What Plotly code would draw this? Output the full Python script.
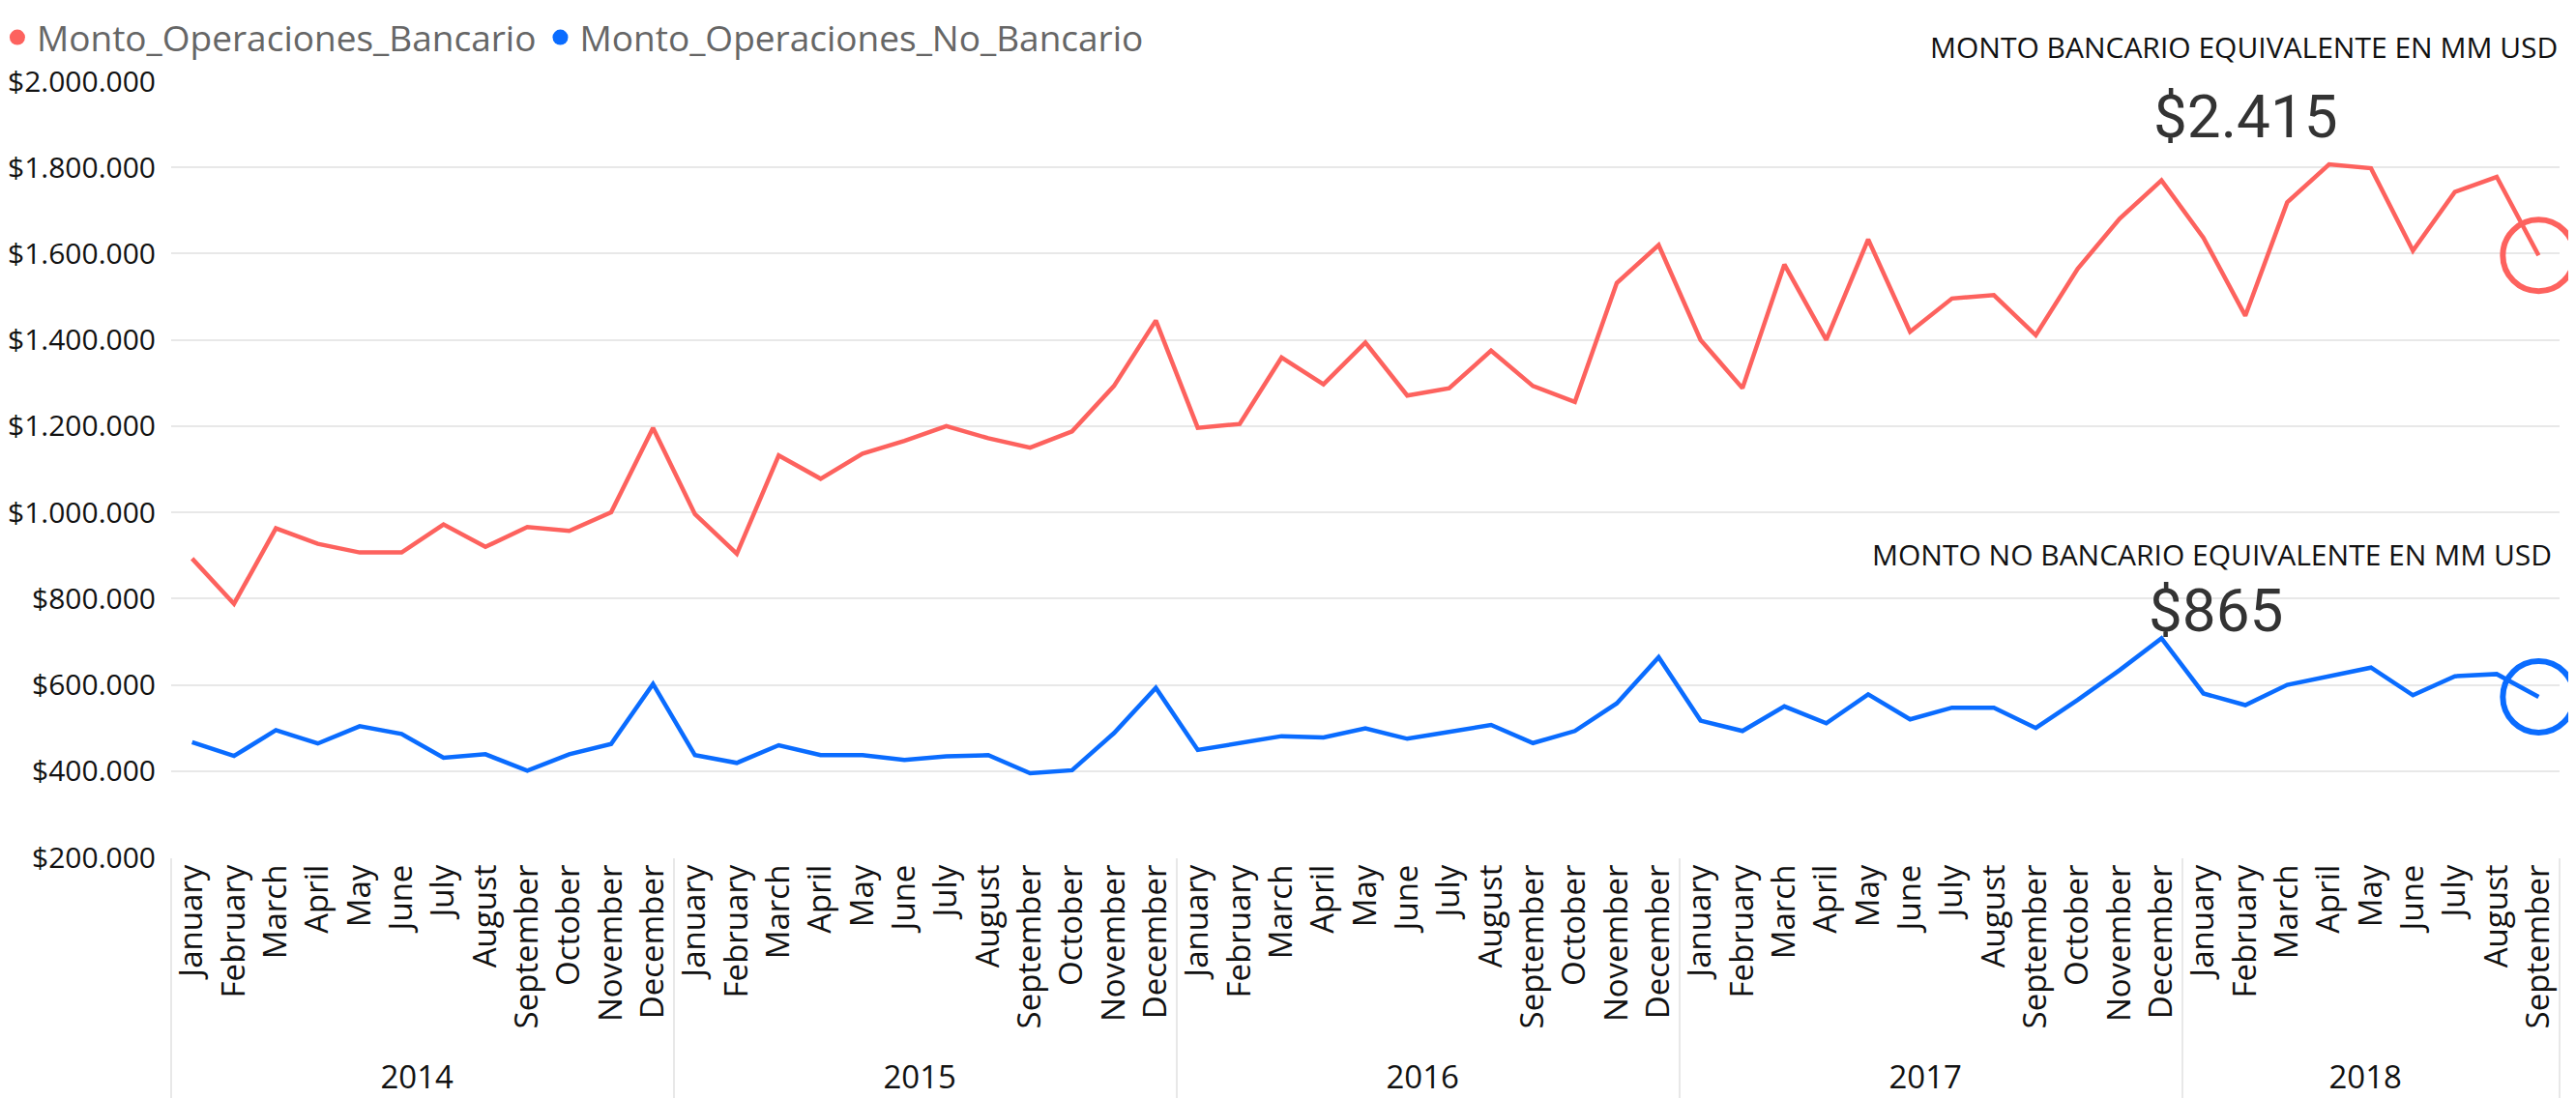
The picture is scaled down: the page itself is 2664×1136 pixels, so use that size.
import plotly.graph_objects as go

RED = "#FD625E"
BLUE = "#0A6CFF"
GRID = "#E8E8E8"

# month-by-month amounts, Jan 2014 .. Sep 2018
years = ["2014"] * 12 + ["2015"] * 12 + ["2016"] * 12 + ["2017"] * 12 + ["2018"] * 9
month_names = ["January", "February", "March", "April", "May", "June", "July",
               "August", "September", "October", "November", "December"]
months = month_names * 4 + month_names[:9]

bancario = [
    893000, 788000, 963000, 927000, 907000, 907000, 972000, 920000, 966000, 957000, 1000000, 1196000,
    996000, 904000, 1132000, 1078000, 1136000, 1166000, 1200000, 1172000, 1150000, 1188000, 1293000, 1445000,
    1196000, 1205000, 1359000, 1297000, 1394000, 1271000, 1288000, 1375000, 1293000, 1256000, 1532000, 1620000,
    1400000, 1288000, 1575000, 1400000, 1633000, 1419000, 1496000, 1504000, 1411000, 1565000, 1681000, 1770000,
    1637000, 1456000, 1719000, 1807000, 1798000, 1607000, 1743000, 1778000, 1596000,
]
no_bancario = [
    467000, 435000, 495000, 464000, 504000, 486000, 431000, 439000, 401000, 439000, 463000, 602000,
    437000, 419000, 460000, 437000, 437000, 426000, 434000, 437000, 395000, 402000, 488000, 593000,
    449000, 464000, 481000, 478000, 499000, 475000, 490000, 507000, 465000, 493000, 557000, 664000,
    517000, 493000, 550000, 511000, 578000, 520000, 547000, 547000, 500000, 565000, 634000, 708000,
    580000, 553000, 600000, 620000, 640000, 576000, 620000, 625000, 572000,
]

kpi_bancario = "$2.415"
kpi_no_bancario = "$865"

fig = go.Figure()

for name, vals, color in [("Monto_Operaciones_Bancario", bancario, RED),
                          ("Monto_Operaciones_No_Bancario", no_bancario, BLUE)]:
    fig.add_trace(go.Scatter(
        x=[years, months], y=vals, mode="lines",
        line=dict(color=color, width=4.5), showlegend=False, name=name,
    ))
    # big ring around the latest value
    fig.add_trace(go.Scatter(
        x=[[years[-1]], [months[-1]]], y=[vals[-1]], mode="markers",
        marker=dict(symbol="circle-open", size=74, color=color, line=dict(width=6, color=color)),
        cliponaxis=False, showlegend=False, hoverinfo="skip",
    ))
    # legend entry drawn as a dot
    fig.add_trace(go.Scatter(
        x=[[years[0]], [months[0]]], y=[None], mode="markers", name=name,
        marker=dict(symbol="circle", size=17, color=color),
    ))

label_font = dict(family="Open Sans", size=30, color="#111111")
kpi_font = dict(family="Roboto", size=62, color="#333333")

fig.add_annotation(text="MONTO BANCARIO EQUIVALENTE EN MM USD", xref="paper", yref="paper",
                   x=1.0, y=1.0436, xanchor="right", yanchor="middle", showarrow=False, font=label_font)
fig.add_annotation(text=kpi_bancario, xref="paper", yref="paper",
                   x=0.8688, y=0.955, xanchor="center", yanchor="middle", showarrow=False, font=kpi_font)
fig.add_annotation(text="MONTO NO BANCARIO EQUIVALENTE EN MM USD", xref="paper", yref="paper",
                   x=0.9976, y=0.391, xanchor="right", yanchor="middle", showarrow=False, font=label_font)
fig.add_annotation(text=kpi_no_bancario, xref="paper", yref="paper",
                   x=0.8559, y=0.3176, xanchor="center", yanchor="middle", showarrow=False, font=kpi_font)

# page body adds an 8px margin, so the figure is 8px smaller than the window
fig.update_layout(
    width=2656,
    height=1128,
    margin=dict(t=76, b=249, l=169, r=17, autoexpand=False),
    plot_bgcolor="white",
    paper_bgcolor="white",
    separators=",.",
    font=dict(family="Open Sans", color="#111111"),
    legend=dict(orientation="h", x=-0.0725, y=1.0946, xanchor="left", yanchor="top",
                font=dict(family="Open Sans", size=37, color="#666666"),
                itemwidth=30, tracegroupgap=0, bgcolor="rgba(0,0,0,0)"),
    xaxis=dict(
        range=[-0.5, 56.5], dtick=1, tickangle=-90, showgrid=False, showline=False, zeroline=False,
        ticks="", automargin=False, tickfont=dict(family="Open Sans", size=33, color="#111111"),
        showdividers=True, dividercolor=GRID, dividerwidth=2,
    ),
    yaxis=dict(
        range=[200000, 2000000], dtick=200000, tickprefix="$", tickformat=",d",
        gridcolor=GRID, gridwidth=2, zeroline=False, showline=False, ticks="", automargin=False,
        ticklabelstandoff=15, tickfont=dict(family="Open Sans", size=30, color="#111111"),
    ),
)

fig.write_html("out.html")
